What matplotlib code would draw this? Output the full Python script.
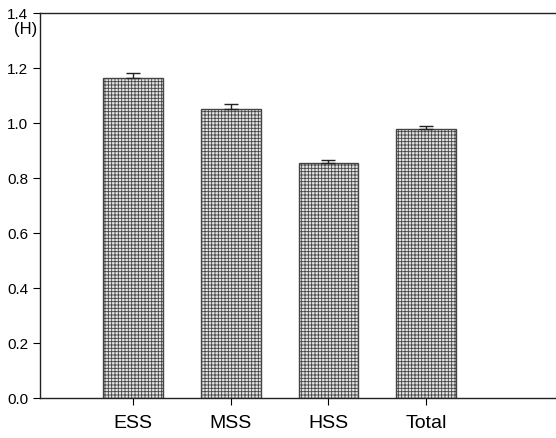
import matplotlib
matplotlib.use("Agg")
import matplotlib.pyplot as plt

categories = ["ESS", "MSS", "HSS", "Total"]
values = [1.165, 1.050, 0.855, 0.978]
errors = [0.017, 0.020, 0.012, 0.010]
yticks = [0.0, 0.2, 0.4, 0.6, 0.8, 1.0, 1.2, 1.4]

plt.rcParams['font.family'] = ['Liberation Sans', 'DejaVu Sans']
plt.rcParams['hatch.color'] = '#9a9a9a'
plt.rcParams['hatch.linewidth'] = 0.6

fig = plt.figure(figsize=(5.56, 4.38), dpi=100)
ax = fig.add_axes([0.072, 0.0913, 0.94, 0.879])
x = [1, 2, 3, 4]
ax.bar(x, values, width=0.61, color='#e2e2e2', edgecolor='#444444',
       linewidth=1.0, hatch='+++++', zorder=2)
ax.errorbar(x, values, yerr=[[0]*4, errors], fmt='none', ecolor='#222222',
            elinewidth=1.0, capsize=5, capthick=1.0, zorder=3)
ax.set_xlim(0.048, 5.398)
ax.set_ylim(0, 1.4)
ax.set_yticks(yticks)
ax.set_yticklabels([f"{v:.1f}" for v in yticks], fontsize=11)
ax.set_xticks(x)
ax.set_xticklabels(categories, fontsize=14)
ax.tick_params(axis='x', direction='out', length=5, pad=7)
ax.tick_params(axis='y', direction='out', length=5)
ax.spines['right'].set_visible(False)
for s in ['left', 'bottom', 'top']:
    ax.spines[s].set_linewidth(1.0)
    ax.spines[s].set_color('#222222')
ax.text(-0.005, 1.34, "(H)", transform=ax.get_yaxis_transform(), ha='right',
        va='center', fontsize=12)
fig.savefig("out.png", dpi=100)
